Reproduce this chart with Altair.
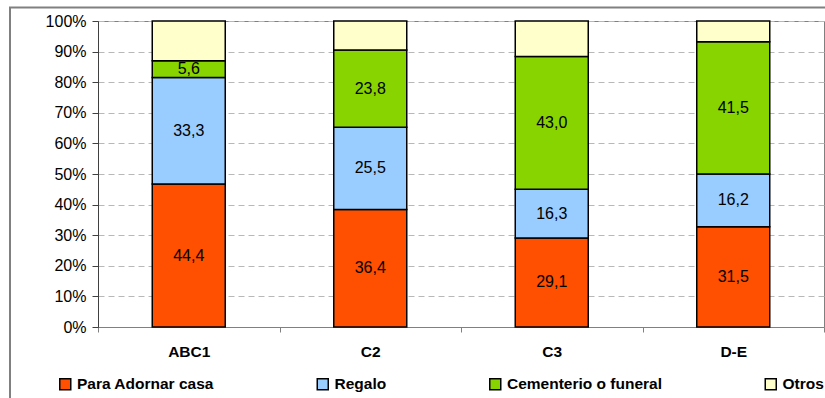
import altair as alt
import pandas as pd

grupos = ["ABC1", "C2", "C3", "D-E"]
motivos = ["Para Adornar casa", "Regalo", "Cementerio o funeral", "Otros"]
colores = ["#FF4F00", "#99CCFF", "#88D400", "#FFFFCC"]

# segment heights (share of each bar, %)
adornar = [46.7, 38.4, 29.1, 32.8]
regalo = [34.8, 26.9, 15.9, 17.2]
cementerio = [5.5, 25.2, 43.4, 43.2]
otros = [13.0, 9.5, 11.6, 6.8]

# printed value labels
etiq_adornar = [44.4, 36.4, 29.1, 31.5]
etiq_regalo = [33.3, 25.5, 16.3, 16.2]
etiq_cementerio = [5.6, 23.8, 43.0, 41.5]
etiq_otros = [None, None, None, None]

y_ticks = [0, 0.1, 0.2, 0.3, 0.4, 0.5, 0.6, 0.7, 0.8, 0.9, 1.0]

rows = []
series = [adornar, regalo, cementerio, otros]
labels = [etiq_adornar, etiq_regalo, etiq_cementerio, etiq_otros]
for i, (m, vals, labs) in enumerate(zip(motivos, series, labels)):
    for g, v, l in zip(grupos, vals, labs):
        rows.append({
            "grupo": g, "motivo": m, "orden": i, "valor": v,
            "etiqueta": "" if l is None else f"{l:.1f}".replace(".", ","),
        })
df = pd.DataFrame(rows)

FONT = "Liberation Sans"

base = alt.Chart(df).transform_stack(
    stack="valor", as_=["y0", "y1"], groupby=["grupo"],
    sort=[alt.SortField("orden", order="ascending")], offset="normalize"
).transform_calculate(mid="(datum.y0 + datum.y1) / 2")

xaxis = alt.Axis(
    title=None, tickBand="extent", labelAngle=0, grid=False,
    labelFont=FONT, labelFontSize=15.5, labelFontWeight="bold", labelColor="black",
    domainColor="#808080", tickColor="#808080", tickSize=5, labelPadding=12,
)
yaxis = alt.Axis(
    title=None, format="%", values=y_ticks, tickCount=20, grid=True,
    labelOverlap=False,
    gridColor="#b8b8b8", gridDash=[6, 4], gridWidth=1,
    domainColor="#404040", tickColor="#404040", tickSize=6, labelPadding=6,
    labelFont=FONT, labelFontSize=16, labelColor="black",
)
xscale = alt.Scale(paddingInner=0, paddingOuter=0)
yscale = alt.Scale(domain=[0, 1], nice=False)

bars = base.mark_bar(size=73, stroke="black", strokeWidth=1.5).encode(
    x=alt.X("grupo:N", sort=grupos, scale=xscale, axis=xaxis),
    y=alt.Y("y0:Q", scale=yscale, axis=yaxis),
    y2="y1:Q",
    color=alt.Color(
        "motivo:N",
        scale=alt.Scale(domain=motivos, range=colores),
        legend=alt.Legend(
            title=None, orient="none", legendX=-40.5, legendY=355,
            direction="horizontal", columns=4, columnPadding=99.5,
            symbolType="square", symbolSize=121,
            symbolStrokeColor="black", symbolStrokeWidth=1.5,
            labelFont=FONT, labelFontSize=15.5, labelFontWeight="bold",
            labelColor="black", labelOffset=4, labelLimit=400, padding=0,
        ),
    ),
    order=alt.Order("orden:Q"),
)

text = base.transform_filter("datum.etiqueta != ''").mark_text(
    font=FONT, fontSize=16, color="black", baseline="middle"
).encode(
    x=alt.X("grupo:N", sort=grupos, scale=xscale, axis=xaxis),
    y=alt.Y("mid:Q", scale=yscale, axis=yaxis),
    text="etiqueta:N",
)

border = alt.Chart(alt.Data(values=[{}])).mark_rect(
    fill="transparent", stroke="#808080", strokeWidth=2
).encode(
    x=alt.value(-88), x2=alt.value(1000), y=alt.value(-13.5), y2=alt.value(600)
)

chart = alt.layer(bars, text, border).properties(
    width=726, height=306,
    autosize=alt.AutoSizeParams(type="none"),
    padding={"left": 98, "top": 21, "right": 1, "bottom": 71},
    background="white",
).configure_view(stroke="#808080", strokeWidth=1)

chart.save("out.html", embed_options={"renderer": "svg", "actions": False})
